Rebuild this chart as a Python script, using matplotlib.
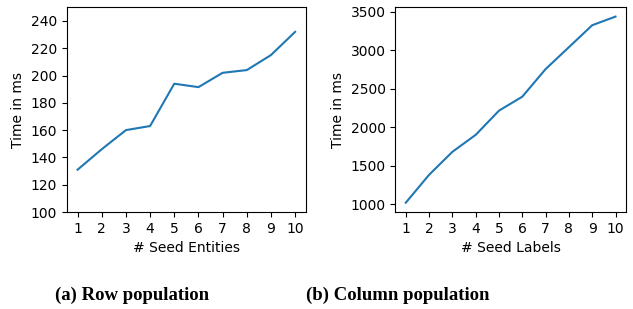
import matplotlib
matplotlib.use("Agg")
import matplotlib.pyplot as plt

x = [1, 2, 3, 4, 5, 6, 7, 8, 9, 10]
row_times = [131, 146, 160, 163, 194, 191.5, 202, 204, 215, 232]
col_times = [1017, 1380, 1679, 1900, 2215, 2397, 2756, 3041, 3327, 3439]
row_yticks = [100, 120, 140, 160, 180, 200, 220, 240]
xlabels = ["# Seed Entities", "# Seed Labels"]
ylabel = "Time in ms"
captions = ["(a) Row population", "(b) Column population"]

fig = plt.figure(figsize=(6.33, 3.09), dpi=100)
W, H = 633, 309
ax1 = fig.add_axes([66.7 / W, 1 - 212 / H, (306 - 66.7) / W, (212 - 7.3) / H])
ax2 = fig.add_axes([395.3 / W, 1 - 212 / H, (626 - 395.3) / W, (212 - 7.3) / H])

ax1.plot(x, row_times, color="#1f77b4", lw=1.5)
ax1.set_ylim(100, 250)
ax1.set_yticks(row_yticks)
ax2.plot(x, col_times, color="#1f77b4", lw=1.5)

for ax, xl in zip([ax1, ax2], xlabels):
    ax.set_xticks(x)
    ax.set_xlabel(xl, fontsize=10)
    ax.set_ylabel(ylabel, fontsize=10)
    ax.tick_params(labelsize=10)

fig.text(132.5 / W, 1 - 295 / H, captions[0], ha="center", va="center",
         fontsize=13.5, fontweight="bold", family="Liberation Serif")
fig.text(397.5 / W, 1 - 295 / H, captions[1], ha="center", va="center",
         fontsize=13.5, fontweight="bold", family="Liberation Serif")

fig.savefig("out.png", dpi=100)
